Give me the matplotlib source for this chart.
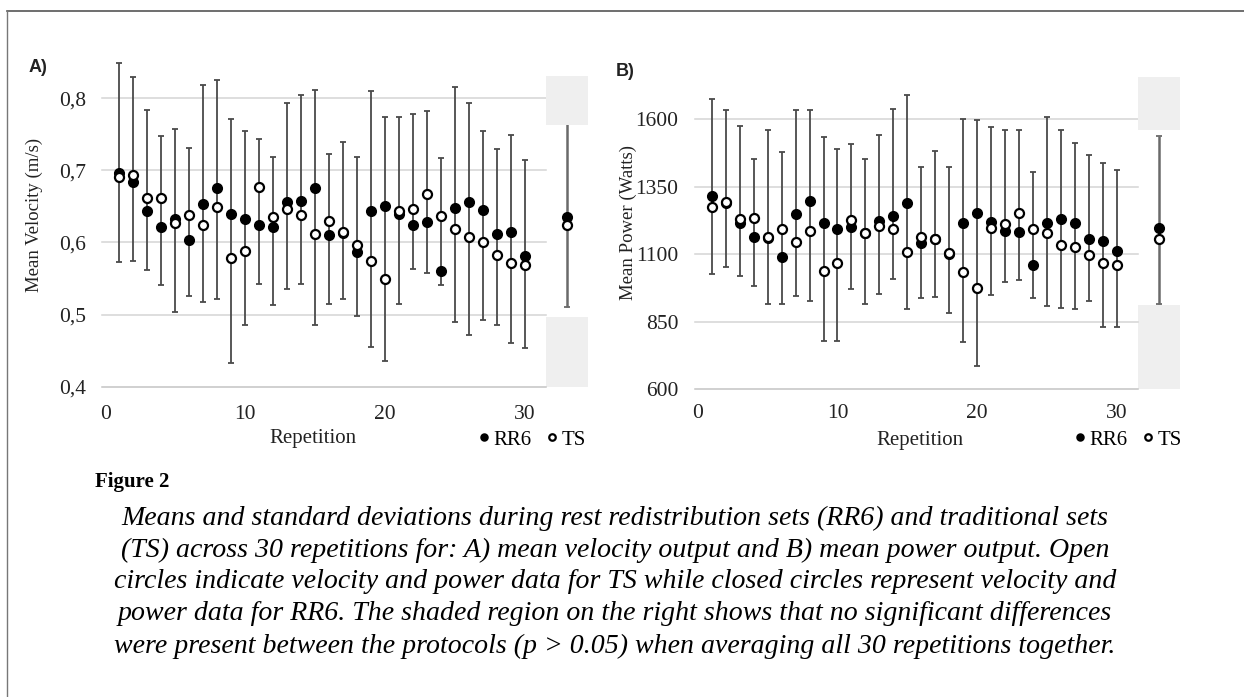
import matplotlib
matplotlib.use("Agg")
import matplotlib.pyplot as plt
from matplotlib.patches import Rectangle
from matplotlib.lines import Line2D
import numpy as np

# ---------------- data ----------------
reps = list(range(1, 31))
avg_x = 33

vel_rr6 = [0.697, 0.684, 0.644, 0.622, 0.633, 0.603, 0.653, 0.675, 0.640, 0.633,
           0.624, 0.621, 0.656, 0.658, 0.675, 0.610, 0.613, 0.587, 0.643, 0.651,
           0.640, 0.624, 0.628, 0.561, 0.648, 0.656, 0.645, 0.612, 0.614, 0.581]
vel_ts = [0.691, 0.694, 0.662, 0.662, 0.627, 0.638, 0.624, 0.649, 0.579, 0.588,
          0.677, 0.635, 0.646, 0.638, 0.612, 0.630, 0.614, 0.597, 0.575, 0.550,
          0.644, 0.646, 0.667, 0.637, 0.618, 0.607, 0.600, 0.583, 0.571, 0.569]
vel_hi = [0.849, 0.829, 0.784, 0.748, 0.757, 0.731, 0.819, 0.826, 0.771, 0.754,
          0.743, 0.719, 0.794, 0.805, 0.811, 0.723, 0.739, 0.719, 0.810, 0.774,
          0.774, 0.778, 0.782, 0.717, 0.816, 0.794, 0.754, 0.729, 0.749, 0.715]
vel_lo = [0.573, 0.574, 0.562, 0.541, 0.503, 0.526, 0.517, 0.521, 0.433, 0.486,
          0.542, 0.513, 0.536, 0.543, 0.486, 0.515, 0.521, 0.498, 0.455, 0.435,
          0.515, 0.563, 0.558, 0.541, 0.490, 0.472, 0.492, 0.486, 0.460, 0.453]
vel_avg_rr6, vel_avg_ts, vel_avg_hi, vel_avg_lo = 0.635, 0.624, 0.79, 0.511

pow_rr6 = [1316, 1290, 1217, 1165, 1161, 1091, 1247, 1295, 1214, 1192,
           1199, 1180, 1223, 1241, 1291, 1143, 1155, 1100, 1214, 1251,
           1220, 1186, 1181, 1060, 1214, 1230, 1214, 1155, 1150, 1113]
pow_ts = [1273, 1294, 1230, 1235, 1165, 1192, 1144, 1187, 1039, 1066,
          1225, 1177, 1204, 1193, 1107, 1165, 1155, 1103, 1033, 974,
          1198, 1210, 1251, 1192, 1177, 1134, 1128, 1097, 1066, 1060]
pow_hi = [1676, 1633, 1574, 1452, 1559, 1477, 1633, 1633, 1532, 1489,
          1508, 1452, 1542, 1639, 1689, 1424, 1483, 1424, 1600, 1596,
          1569, 1559, 1559, 1405, 1606, 1559, 1510, 1467, 1438, 1411]
pow_lo = [1025, 1051, 1019, 982, 916, 916, 945, 928, 779, 779,
          971, 916, 953, 1008, 896, 937, 943, 884, 774, 688,
          949, 998, 1004, 939, 910, 900, 896, 928, 829, 829]
pow_avg_rr6, pow_avg_ts, pow_avg_hi, pow_avg_lo = 1198, 1155, 1537, 916

vel_ticks = [0.4, 0.5, 0.6, 0.7, 0.8]
vel_ticklabels = ["0,4", "0,5", "0,6", "0,7", "0,8"]
pow_ticks = [600, 850, 1100, 1350, 1600]
x_ticks = [0, 10, 20, 30]

caption_title = "Figure 2"
caption_lines = [
    "Means and standard deviations during rest redistribution sets (RR6) and traditional sets",
    "(TS) across 30 repetitions for: A) mean velocity output and B) mean power output. Open",
    "circles indicate velocity and power data for TS while closed circles represent velocity and",
    "power data for RR6. The shaded region on the right shows that no significant differences",
    "were present between the protocols (p > 0.05) when averaging all 30 repetitions together.",
]

# ---------------- figure ----------------
W, H = 1244, 697
fig = plt.figure(figsize=(W / 100, H / 100), dpi=100)
SERIF = ["Liberation Serif", "DejaVu Serif"]
SANS = ["Liberation Sans", "DejaVu Sans"]


def fx(px):
    return px / W


def fy(py):
    return 1 - py / H


# frame lines (top and left)
fig.add_artist(Line2D([fx(7), 1], [fy(11), fy(11)], color="#555555", lw=1.2))
fig.add_artist(Line2D([fx(7), fx(7)], [fy(11), 0], color="#777777", lw=1.0))


def panel(rect, rr6, ts, hi, lo, a_rr6, a_ts, a_hi, a_lo, ylim, ticks, ticklabels,
          shade_top, shade_bot, leg_anchor):
    ax = fig.add_axes(rect)
    x = np.array(reps)
    hi = np.array(hi); lo = np.array(lo)
    # gridlines
    for t in ticks:
        ax.plot([-0.2, 31.5], [t, t], color="#d4d4d4" if t != ticks[0] else "#c4c4c4",
                lw=1.1, zorder=1)
    # shaded region (bottom block)
    ax.add_patch(Rectangle((31.5, shade_bot[0]), 3.0, shade_bot[1] - shade_bot[0],
                           facecolor="#efefef", edgecolor="none", zorder=0.5))
    # error bars
    ax.errorbar(x, (hi + lo) / 2, yerr=(hi - lo) / 2, fmt="none", ecolor="#4a4a4a",
                elinewidth=1.3, capsize=2.3, capthick=1.3, zorder=2)
    ax.errorbar([avg_x], [(a_hi + a_lo) / 2], yerr=[(a_hi - a_lo) / 2], fmt="none",
                ecolor="#6a6a6a", elinewidth=1.8, capsize=2.3, capthick=1.3, zorder=2)
    # shaded region (top block, drawn over the bar)
    ax.add_patch(Rectangle((31.5, shade_top[0]), 3.0, shade_top[1] - shade_top[0],
                           facecolor="#efefef", edgecolor="none", zorder=2.5))
    # points
    ax.plot(list(x) + [avg_x], list(rr6) + [a_rr6], "o", ms=6.8, mfc="black",
            mec="black", mew=1.2, zorder=3, label="RR6")
    ax.plot(list(x) + [avg_x], list(ts) + [a_ts], "o", ms=6.5, mfc="white",
            mec="black", mew=1.6, zorder=4, label="TS")
    ax.set_xlim(-0.5, 35)
    ax.set_ylim(*ylim)
    ax.set_yticks(ticks)
    ax.set_yticklabels(ticklabels)
    ax.set_xticks(x_ticks)
    for s in ax.spines.values():
        s.set_visible(False)
    ax.tick_params(length=0, labelsize=15.5, pad=3)
    ax.tick_params(axis="y", pad=9)
    for lab in ax.get_xticklabels() + ax.get_yticklabels():
        lab.set_family(SERIF)
        lab.set_color("#222222")
    ax.legend(loc="center", bbox_to_anchor=leg_anchor, bbox_transform=fig.transFigure,
              ncol=2, frameon=False, handlelength=0.35, handletextpad=0.3,
              columnspacing=0.8, prop={"family": SERIF, "size": 15},
              markerscale=0.72, borderpad=0, borderaxespad=0)
    return ax


# Panel A
axA = panel([fx(98.3), fy(401.1), fx(496.3), 353.3 / H],
            vel_rr6, vel_ts, vel_hi, vel_lo,
            vel_avg_rr6, vel_avg_ts, vel_avg_hi, vel_avg_lo,
            (0.38, 0.87), vel_ticks, vel_ticklabels,
            shade_top=(0.763, 0.831), shade_bot=(0.40, 0.497),
            leg_anchor=(fx(533), fy(440)))
# Panel B
axB = panel([fx(690.8), fy(400.1), fx(495.9), 324.3 / H],
            pow_rr6, pow_ts, pow_hi, pow_lo,
            pow_avg_rr6, pow_avg_ts, pow_avg_hi, pow_avg_lo,
            (560, 1760), pow_ticks, [str(t) for t in pow_ticks],
            shade_top=(1559, 1755), shade_bot=(600, 912),
            leg_anchor=(fx(1129), fy(440)))

# axis labels
fig.text(fx(34), fy(215), "Mean Velocity (m/s)", rotation=90, ha="center", va="center",
         family=SERIF, fontsize=13.5, color="#222222")
fig.text(fx(628), fy(222), "Mean Power (Watts)", rotation=90, ha="center", va="center",
         family=SERIF, fontsize=13.5, color="#222222")
fig.text(fx(313), fy(439), "Repetition", ha="center", va="center", family=SERIF,
         fontsize=15, color="#222222")
fig.text(fx(920), fy(441), "Repetition", ha="center", va="center", family=SERIF,
         fontsize=15, color="#222222")

# panel letters
fig.text(fx(29), fy(67), "A)", ha="left", va="center", family=SANS, fontsize=13,
         fontweight="bold", color="#222222")
fig.text(fx(616), fy(72), "B)", ha="left", va="center", family=SANS, fontsize=13,
         fontweight="bold", color="#222222")

# caption
fig.text(fx(95), fy(482), caption_title, ha="left", va="center", family=SERIF,
         fontsize=15, fontweight="bold", color="black")
for i, line in enumerate(caption_lines):
    fig.text(fx(615), fy(518 + 32 * i), line, ha="center", va="center", family=SERIF,
             fontsize=20.1, style="italic", color="black")

fig.savefig("out.png", dpi=100, facecolor="white")
